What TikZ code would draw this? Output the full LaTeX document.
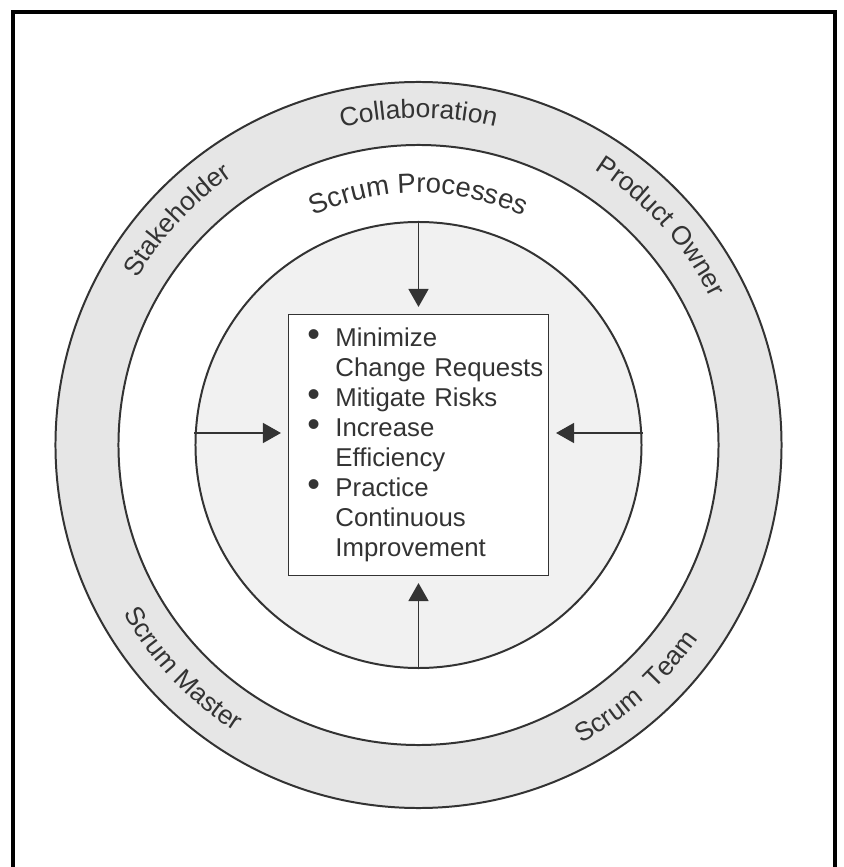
\documentclass[tikz,border=0pt]{standalone}
\usepackage{fontspec}
\setmainfont{Liberation Sans}
\usetikzlibrary{arrows.meta, decorations.text}
\definecolor{bandgray}{HTML}{E6E6E6}
\definecolor{coregray}{HTML}{F1F1F1}
\definecolor{linegray}{HTML}{333333}
\newcommand\ringfont{\fontsize{22.5}{27}\selectfont}
\newcommand\procfont{\fontsize{23.5}{28}\selectfont}
\newcommand\boxfont{\fontsize{22}{25.6}\selectfont}
\newcommand\dotitem{\hspace*{0.47cm}\makebox[0.84cm][l]{\scalebox{1.4}{\textbullet}}}
\newcommand\goon{\hspace*{1.31cm}}

\begin{document}
\begin{tikzpicture}[x=0.03cm, y=0.03cm,
		ring/.style={circle, draw=linegray, line width=1.7pt, inner sep=0pt},
		flow/.style={draw=linegray, line width=1.3pt, -{Triangle[length=0.54cm, width=0.6cm]}, shorten >=0.2cm},
		curved/.style={decorate, decoration={text along path, text align=center, text color=linegray, text={|\ringfont|#1}}}]
	\useasboundingbox (-418.5,-422) rectangle (425.5,445);
	% Frame
	\draw[line width=3.4pt] (-405.5,-440) rectangle (416.5,433);
	% Rings
	\node[ring, fill=bandgray, minimum size=21.78cm] (outer) at (0,0) {};
	\node[ring, fill=white, minimum size=18cm] (middle) at (0,0) {};
	\node[ring, fill=coregray, minimum size=13.38cm] (inner) at (0,0) {};
	% Goals box
	\node[draw=linegray, line width=1.5pt, fill=white, minimum width=7.8cm, minimum height=7.83cm,
		inner xsep=0.1cm, text width=7.6cm, align=left, text=linegray, font=\boxfont] (box) at (0,0)
		{\dotitem Minimize\\ \goon Change Requests\\ \dotitem Mitigate Risks\\ \dotitem Increase\\
		 \goon Efficiency\\ \dotitem Practice\\ \goon Continuous\\ \goon Improvement};
	% Arrows into the box
	\draw[flow] (inner.north) -- (box.north);
	\draw[flow] (inner.south) -- (box.south);
	\draw[flow] ([yshift=0.36cm]inner.west) -- ([yshift=0.36cm]box.west);
	\draw[flow] ([yshift=0.36cm]inner.east) -- ([yshift=0.36cm]box.east);
	% Labels on the outer band
	\path[curved=Collaboration] (150:327) arc[start angle=150, end angle=30, radius=327];
	\path[curved=Stakeholder] (197:327) arc[start angle=197, end angle=77, radius=327];
	\path[curved=Product Owner] (102:327) arc[start angle=102, end angle=-18, radius=327];
	\path[curved=Scrum Master] (163.5:340) arc[start angle=163.5, end angle=283.5, radius=340];
	\path[curved={Scrum{\ }{\ }Team}] (252:340) arc[start angle=252, end angle=372, radius=340];
	% Label on the middle ring
	\path[decorate, decoration={text along path, text align=center, text color=linegray, text={|\procfont|Scrum Processes}}]
		(150:252) arc[start angle=150, end angle=30, radius=252];
\end{tikzpicture}
\end{document}
